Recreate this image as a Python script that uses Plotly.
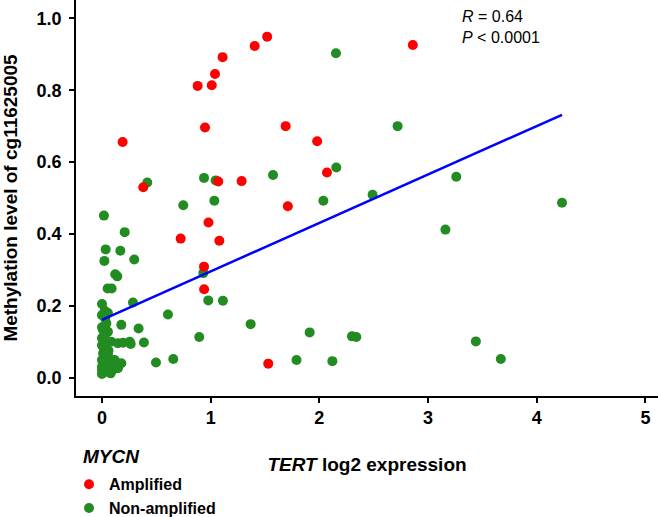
import numpy as np
import plotly.graph_objects as go

# Data
amp_x = [0.19, 0.38, 0.88, 1.01, 1.04, 1.11, 1.405, 1.52, 0.948, 1.69, 1.98, 2.07,
         1.07, 1.285, 2.86, 0.724, 0.98, 1.08, 0.939, 0.94, 1.71, 1.53]
amp_y = [0.656, 0.53, 0.812, 0.814, 0.845, 0.892, 0.923, 0.949, 0.696, 0.70, 0.658, 0.571,
         0.546, 0.547, 0.926, 0.387, 0.432, 0.381, 0.309, 0.246, 0.477, 0.039]

non_x = [0.417, 0.939, 1.046, 1.574, 2.153, 2.156, 1.034, 2.037, 2.72, 3.26, 2.49, 4.233,
         3.16, 1.911, 2.30, 2.34, 3.44, 3.67, 2.12, 1.79, 0.748, 0.209, 0.018, 0.034,
         0.169, 0.022, 0.297, 0.122, 0.141, 0.052, 0.089, 0.932, 0.978, 1.113, 0.285,
         0.607, 1.368, 0.895, 0.497, 0.656,
         0.0, 0.025, 0.0, 0.055, 0.178, 0.337, 0.04, 0.01, 0.055, 0.0, 0.086, 0.147,
         0.193, 0.255, 0.264, 0.386, 0.01, 0.01, 0.055, 0.117, 0.178, 0.0, 0.055, 0.0,
         0.04, 0.1, 0.147, 0.02, 0.03, 0.0, 0.03, 0.08, 0.02, 0.0, 0.06, 0.0, 0.12,
         0.03, 0.08, 0.0]
non_y = [0.543, 0.556, 0.549, 0.564, 0.903, 0.585, 0.4925, 0.4925, 0.70, 0.559, 0.509, 0.487,
         0.412, 0.126, 0.115, 0.113, 0.101, 0.052, 0.046, 0.049, 0.48, 0.405, 0.451, 0.357,
         0.353, 0.325, 0.329, 0.288, 0.282, 0.248, 0.248, 0.291, 0.215, 0.214, 0.209,
         0.176, 0.149, 0.113, 0.042, 0.052,
         0.205, 0.186, 0.174, 0.18, 0.147, 0.137, 0.151, 0.133, 0.128, 0.11, 0.100, 0.096,
         0.097, 0.100, 0.094, 0.098, 0.086, 0.068, 0.063, 0.049, 0.040, 0.049, 0.035, 0.022,
         0.017, 0.022, 0.026, 0.095, 0.12, 0.14, 0.055, 0.03, 0.04, 0.03, 0.075, 0.09, 0.035,
         0.165, 0.012, 0.01]

# Linear fit shown in the chart (intercept and slope)
fit_intercept = 0.161
fit_slope = 0.1348

x_ticks = [0, 1, 2, 3, 4, 5]
y_ticks = [0.0, 0.2, 0.4, 0.6, 0.8, 1.0]
y_tick_labels = ["0.0", "0.2", "0.4", "0.6", "0.8", "1.0"]

all_x = np.array(amp_x + non_x)
fit_x = np.array([all_x.min(), all_x.max()])
fit_y = fit_intercept + fit_slope * fit_x

FONT = "Liberation Sans, Arial, Helvetica, sans-serif"

fig = go.Figure()
fig.add_trace(go.Scatter(x=non_x, y=non_y, mode="markers", name="Non-amplified",
                         legendrank=2,
                         marker=dict(color="#228B22", size=10, line=dict(width=0))))
fig.add_trace(go.Scatter(x=amp_x, y=amp_y, mode="markers", name="Amplified",
                         legendrank=1,
                         marker=dict(color="#FF0000", size=10, line=dict(width=0))))
fig.add_trace(go.Scatter(x=fit_x, y=fit_y, mode="lines", showlegend=False,
                         line=dict(color="#0000FF", width=2.5)))

fig.update_layout(
    width=658, height=517, autosize=False,
    margin=dict(l=76, r=0, t=0, b=121, autoexpand=False),
    plot_bgcolor="white", paper_bgcolor="white",
    font=dict(family=FONT, color="black"),
    xaxis=dict(range=[-0.239, 5.116], tickvals=x_ticks, showgrid=False, zeroline=False,
               automargin=False,
               showline=True, linecolor="black", linewidth=1.5,
               ticks="outside", ticklen=5, tickwidth=1.5, tickcolor="black",
               tickfont=dict(size=18, family=FONT, weight="bold"),
               title=dict(text="<i>TERT</i> log2 expression", standoff=30,
                          font=dict(size=19, family=FONT, weight="bold"))),
    yaxis=dict(range=[-0.051, 1.051], tickvals=y_ticks, ticktext=y_tick_labels,
               showgrid=False, zeroline=False, automargin=False,
               showline=True, linecolor="black", linewidth=1.5,
               ticks="outside", ticklen=5, tickwidth=1.5, tickcolor="black",
               ticklabelstandoff=4,
               tickfont=dict(size=18, family=FONT, weight="bold"),
               title=dict(text="Methylation level of cg11625005", standoff=15,
                          font=dict(size=19, family=FONT, weight="bold"))),
    legend=dict(x=-0.012, xanchor="left", y=-0.180, yanchor="top",
                font=dict(size=16, family=FONT, weight="bold"),
                bgcolor="rgba(0,0,0,0)", itemwidth=30),
    annotations=[
        dict(text="<i>R</i> = 0.64<br><i>P</i> < 0.0001", xref="paper", yref="paper",
             x=0.66, y=0.985, xanchor="left", yanchor="top", align="left", showarrow=False,
             font=dict(size=16, family=FONT)),
        dict(text="<i>MYCN</i>", xref="paper", yref="paper", x=0.008, y=-0.154,
             xanchor="left", yanchor="middle", showarrow=False,
             font=dict(size=19, family=FONT, weight="bold")),
    ],
)

fig.write_html(
    "out.html",
    config={"responsive": False, "displayModeBar": False},
    post_script="document.body.style.margin='0';document.body.style.overflow='hidden';",
)
